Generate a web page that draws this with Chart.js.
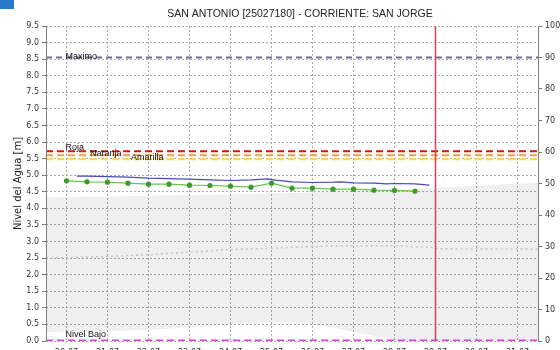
<!DOCTYPE html>
<html>
<head>
<meta charset="utf-8">
<script src="https://cdn.jsdelivr.net/npm/chart.js@4.4.1/dist/chart.umd.min.js"></script>
<style>
html, body { margin: 0; padding: 0; background: #fff; overflow: hidden; }
#wrap { position: relative; width: 560px; height: 350px; overflow: hidden; }
#mark { position: absolute; left: 0; top: 0; width: 14px; height: 9px; background: #2a78c8; }
</style>
</head>
<body>
<div id="wrap">
  <canvas id="canvasDiv" width="560" height="358"></canvas>
  <div id="mark"></div>
</div>
<script>
// days on the x axis and their labels
const days = [20, 21, 22, 23, 24, 25, 26, 27, 28, 29, 30, 31];
const dayLabels = ["20-07", "21-07", "22-07", "23-07", "24-07", "25-07",
  "26-07", "27-07", "28-07", "29-07", "30-07", "31-07"];

// observed level (blue)
const blueX = [20.25, 20.5, 21.0, 21.5, 22.0, 22.5, 23.0, 23.5, 24.0, 24.5, 24.9,
  25.1, 25.5, 26.0, 26.5, 26.7, 27.0, 27.5, 27.8, 28.0, 28.5, 28.85];
const blueY = [4.97, 4.97, 4.96, 4.94, 4.91, 4.90, 4.88, 4.86, 4.84, 4.86, 4.89,
  4.85, 4.80, 4.78, 4.79, 4.80, 4.77, 4.76, 4.74, 4.75, 4.74, 4.70];

// sensor readings every 12 h (green)
const greenX = [20.0, 20.5, 21.0, 21.5, 22.0, 22.5, 23.0, 23.5, 24.0, 24.5,
  25.0, 25.5, 26.0, 26.5, 27.0, 27.5, 28.0, 28.5];
const greenY = [4.83, 4.80, 4.79, 4.76, 4.73, 4.73, 4.70, 4.69, 4.67, 4.64,
  4.76, 4.61, 4.61, 4.58, 4.58, 4.55, 4.54, 4.52];

// historical band (grey) and its mean (dotted)
const bandX = [19.5, 21, 22, 23, 24, 25, 25.7, 26.5, 27.5, 28.2, 29, 30, 31.5];
const bandTop = [4.33, 4.36, 4.38, 4.40, 4.42, 4.45, 4.47, 4.50, 4.54, 4.57, 4.62, 4.68, 4.78];
const bandBottom = [0.27, 0.30, 0.33, 0.40, 0.50, 0.58, 0.55, 0.40, 0.15, 0.0, 0.0, 0.0, 0.0];
const meanX = [19.5, 21, 22, 23, 24, 25, 26, 27, 28, 28.9, 29.1, 31.5];
const meanY = [2.50, 2.55, 2.60, 2.68, 2.76, 2.80, 2.85, 2.87, 2.87, 2.82, 2.78, 2.77];

// alert levels
const levelNames = ["Maximo", "Roja", "Naranja", "Amarilla", "Nivel Bajo"];
const levelValues = [8.55, 5.72, 5.60, 5.48, 0.0];
const levelColors = ["#6e6e98", "#e01010", "#f0a040", "#f2e040", "#e040e0"];

const chartTitle = "SAN ANTONIO [25027180] - CORRIENTE: SAN JORGE";
const cutDay = 29;
const xMin = 19.5, xMax = 31.5;

function pts(xs, ys) {
  return xs.map((x, i) => ({ x: x, y: ys[i] }));
}

var datasets = [];
datasets.push({
  data: pts(bandX, bandTop), borderWidth: 0, pointRadius: 0,
  backgroundColor: "rgba(0,0,0,0.062)", fill: "+1", order: 20,
});
datasets.push({
  data: pts(bandX, bandBottom), borderWidth: 0, pointRadius: 0, fill: false, order: 21,
});
datasets.push({
  data: pts(meanX, meanY), borderColor: "#c4c4c4", borderWidth: 1.5,
  borderDash: [2, 3], pointRadius: 0, order: 15,
});
levelValues.forEach((v, i) => {
  datasets.push({
    data: [{ x: xMin, y: v }, { x: xMax, y: v }],
    borderColor: levelColors[i],
    borderWidth: i == 4 ? 3 : 2,
    borderDash: i == 0 ? [6, 4] : [7, 4],
    pointRadius: 0,
    order: 10 - i,
  });
});
datasets.push({
  data: [{ x: cutDay, y: 0 }, { x: cutDay, y: 9.5 }],
  borderColor: "#d04848", borderWidth: 1.5, pointRadius: 0, order: 3,
});
datasets.push({
  data: pts(blueX, blueY), borderColor: "#4a4ab8", borderWidth: 1.2,
  pointRadius: 0, order: 2,
});
datasets.push({
  data: pts(greenX, greenY), borderColor: "#66c848", borderWidth: 1.2,
  pointRadius: 2, pointBackgroundColor: "#3c9a2c", pointBorderColor: "#3c9a2c",
  order: 1,
});

// title, solid left axis line and names of the alert levels
const levelText = {
  id: "levelText",
  afterDatasetsDraw(chart) {
    const ctx = chart.ctx;
    const xs = chart.scales.x, ys = chart.scales.y;
    const area = chart.chartArea;
    const at = [20, 20, 20.6, 21.6, 20];
    ctx.save();
    ctx.strokeStyle = "#808080";
    ctx.lineWidth = 1;
    ctx.beginPath();
    ctx.moveTo(area.left + 0.5, area.top);
    ctx.lineTo(area.left + 0.5, area.bottom);
    ctx.stroke();

    ctx.font = "10.5px 'Liberation Sans'";
    ctx.fillStyle = "#222";
    ctx.textAlign = "center";
    ctx.fillText(chartTitle, 300, 17);
    ctx.textAlign = "left";
    ctx.font = "9px 'Liberation Sans'";
    ctx.fillStyle = "#111";
    levelNames.forEach((n, i) => {
      let y = ys.getPixelForValue(levelValues[i]);
      y = i == 4 ? y - 4 : i == 1 ? y - 1 : y + 1;
      ctx.fillText(n, xs.getPixelForValue(at[i]) - 1, y);
    });
    ctx.restore();
  },
};

const gridStyle = { color: "#aaaaaa", tickColor: "#777" };
const tickFont = { family: "'DejaVu Sans'", size: 8 };

var chart = new Chart(document.getElementById("canvasDiv"), {
  type: "line",
  data: { datasets: datasets },
  plugins: [levelText],
  options: {
    responsive: false,
    animation: false,
    layout: { padding: { top: 26 } },
    plugins: {
      legend: { display: false },
      tooltip: { enabled: false },
      title: { display: false },
    },
    scales: {
      x: {
        type: "linear",
        min: xMin,
        max: xMax,
        afterBuildTicks: (s) => { s.ticks = days.map((d) => ({ value: d })); },
        afterFit: (s) => { s.height = 17; },
        ticks: {
          color: "#333", font: tickFont, padding: 7, maxRotation: 0,
          callback: (v) => dayLabels[days.indexOf(v)],
        },
        grid: Object.assign({ drawTicks: false }, gridStyle),
        border: { display: false, dash: [2, 2] },
      },
      y: {
        min: 0,
        max: 9.5,
        afterFit: (s) => { s.width = 46; },
        ticks: { stepSize: 0.5, color: "#333", font: tickFont, padding: 3,
          callback: (v) => v.toFixed(1) },
        grid: Object.assign({ tickLength: 4 }, gridStyle),
        border: { display: false, dash: [2, 2] },
        title: {
          display: true, text: "Nivel del Agua [m]", color: "#222",
          font: { family: "'DejaVu Sans'", size: 10 },
          padding: { top: 12, bottom: 0 },
        },
      },
      y2: {
        position: "right",
        min: 0,
        max: 100,
        afterFit: (s) => { s.width = 22; },
        ticks: { stepSize: 10, color: "#333", font: tickFont, padding: 3 },
        grid: { drawOnChartArea: false, tickLength: 4, tickColor: "#777" },
        border: { color: "#808080" },
      },
    },
  },
});
</script>
</body>
</html>
